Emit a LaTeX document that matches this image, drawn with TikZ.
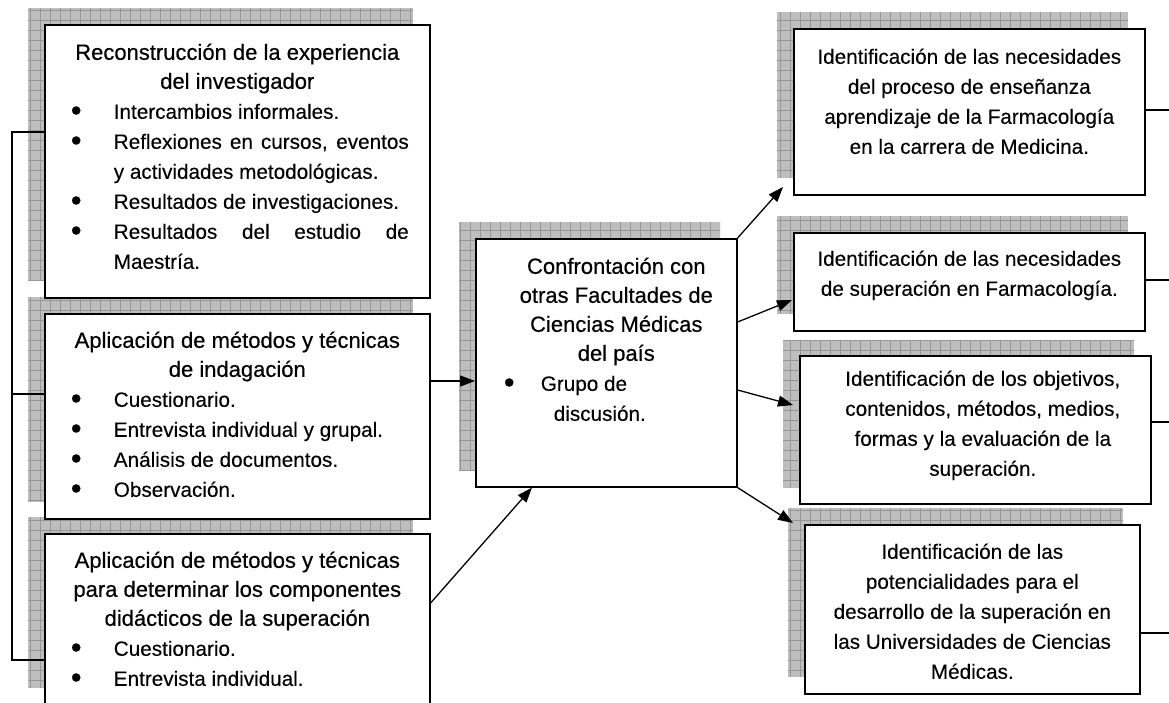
\documentclass[tikz,border=0pt]{standalone}
\usepackage{fontspec}
\usepackage{graphicx}
\setmainfont{Liberation Sans}[FakeBold=0.15]
\newfontfamily\titfont{Liberation Sans}[FakeBold=0.45]
\usetikzlibrary{arrows.meta}
\definecolor{shfill}{RGB}{190,190,190}
\definecolor{shgrid}{RGB}{150,150,150}
\newcommand\bodyf{\fontsize{20.7pt}{30pt}\selectfont}
\newcommand\titf{\titfont\fontsize{22pt}{29pt}\selectfont}
\newcommand\bdot{\raisebox{-2pt}{\scalebox{1.5}{\textbullet}}}
\newcommand\bul[1]{\par\bodyf\noindent\hspace*{26pt}\makebox[43pt][l]{\bdot}#1}
\newcommand\cont[1]{\par\bodyf\noindent\hspace*{69pt}#1}
\newcommand\boxtxt[3]{\begin{minipage}[t][#2][t]{#1}#3\end{minipage}}
\newcommand\shd[4]{%
  \fill[shfill] (#1,#2) rectangle ++(#3,#4);
  \begin{scope}
    \clip (#1,#2) rectangle ++(#3,#4);
    \draw[shgrid,line width=0.7pt,step=10pt] (#1,{#2+#4}) grid ({#1+#3},#2);
  \end{scope}}
\tikzset{
  bx/.style={draw,line width=1.6pt,fill=white,inner sep=0pt,anchor=north west},
  arr/.style={line width=1.3pt,-{Triangle[length=15pt,width=11pt]}},
  ln/.style={line width=1.5pt}
}
\begin{document}
\begin{tikzpicture}[x=1pt,y=-1pt]
\useasboundingbox (0,0) rectangle (1169,702);
\clip (0,0) rectangle (1169,702);
% shadows
\shd{28}{8}{385}{273}
\shd{28}{297}{385}{205}
\shd{28}{517}{385}{171}
\shd{459}{222}{261}{248}
\shd{777}{12}{351}{166}
\shd{777}{216}{351}{98}
\shd{783}{340}{351}{148}
\shd{788}{508}{335}{169}
% left boxes
\node[bx] (A) at (44,24) {\boxtxt{385pt}{273pt}{%
  {\titf\centering\rule{0pt}{35pt}Reconstrucción de la experiencia\\ del investigador\par}
  \bul{Intercambios informales.}
  \bul{\makebox[295pt][s]{Reflexiones en cursos, eventos}}
  \cont{y actividades metodológicas.}
  \bul{Resultados de investigaciones.}
  \bul{\makebox[295pt][s]{Resultados del estudio de}}
  \cont{Maestría.}\par}};
\node[bx] (B) at (44,313) {\boxtxt{385pt}{205pt}{%
  {\titf\centering\rule{0pt}{34pt}Aplicación de métodos y técnicas\\ de indagación\par}
  \bul{Cuestionario.}
  \bul{Entrevista individual y grupal.}
  \bul{Análisis de documentos.}
  \bul{Observación.}\par}};
\node[bx] (C) at (44,533) {\boxtxt{385pt}{171pt}{%
  {\titf\centering\rule{0pt}{34pt}Aplicación de métodos y técnicas\\ para determinar los componentes\\ didácticos de la superación\par}
  \bul{Cuestionario.}
  \bul{Entrevista individual.}\par}};
% middle box
\node[bx] (M) at (475,238) {\boxtxt{261pt}{248pt}{%
  {\titf\leftskip=20pt plus 1fil\rightskip=0pt plus 1fil\parfillskip=0pt
  \rule{0pt}{35pt}Confrontación con\par otras Facultades de\par Ciencias Médicas\par del país\par}
  {\bodyf\noindent\hspace*{28pt}\makebox[37pt][l]{\bdot}Grupo de\par
  \noindent\hspace*{78pt}discusión.\par}}};
% right boxes
\node[bx] (R1) at (793,28) {\boxtxt{351pt}{166pt}{%
  {\bodyf\centering\rule{0pt}{35pt}Identificación de las necesidades\\ del proceso de enseñanza\\ aprendizaje de la Farmacología\\ en la carrera de Medicina.\par}}};
\node[bx] (R2) at (793,232) {\boxtxt{351pt}{98pt}{%
  {\bodyf\centering\rule{0pt}{33pt}Identificación de las necesidades\\ de superación en Farmacología.\par}}};
\node[bx] (R3) at (799,355) {\boxtxt{351pt}{148pt}{%
  {\bodyf\leftskip=15pt plus 1fil\rightskip=0pt plus 1fil\parfillskip=0pt
  \rule{0pt}{30pt}Identificación de los objetivos,\par contenidos, métodos, medios,\par formas y la evaluación de la\par superación.\par}}};
\node[bx] (R4) at (804,524) {\boxtxt{335pt}{169pt}{%
  {\bodyf\centering\rule{0pt}{34pt}Identificación de las\\ potencialidades para el\\ desarrollo de la superación en\\ las Universidades de Ciencias\\ Médicas.\par}}};
% bracket on the left
\coordinate (b1) at (12,132);
\coordinate (b2) at (12,394);
\coordinate (b3) at (12,660);
\draw[ln] (b1 -| A.west) -- (b1) -- (b3) -- (b3 -| C.west);
\draw[ln] (b2) -- (b2 -| B.west);
% arrows into the middle box
\coordinate (ybm) at (0,381);
\draw[arr] (ybm -| B.east) -- (ybm -| M.west);
\coordinate (ycm) at (0,603);
\coordinate (xcm) at (532,0);
\draw[arr] (ycm -| C.east) -- (xcm |- M.south);
% arrows out of the middle box
\coordinate (t1) at (783,187);
\coordinate (t2) at (792,300);
\coordinate (t3) at (793,405);
\coordinate (t4) at (793,523);
\coordinate (s2) at (0,322);
\coordinate (s3) at (0,390);
\draw[arr] (M.north east) -- (t1);
\draw[arr] (s2 -| M.east) -- (t2);
\draw[arr] (s3 -| M.east) -- (t3);
\draw[arr] (M.south east) -- (t4);
% stubs on the right
\coordinate (r1) at (1169,110);
\coordinate (r2) at (1169,280);
\coordinate (r3) at (1169,422);
\coordinate (r4) at (1169,633);
\draw[ln] (r1 -| R1.east) -- (r1);
\draw[ln] (r2 -| R2.east) -- (r2);
\draw[ln] (r3 -| R3.east) -- (r3);
\draw[ln] (r4 -| R4.east) -- (r4);
\end{tikzpicture}
\end{document}
